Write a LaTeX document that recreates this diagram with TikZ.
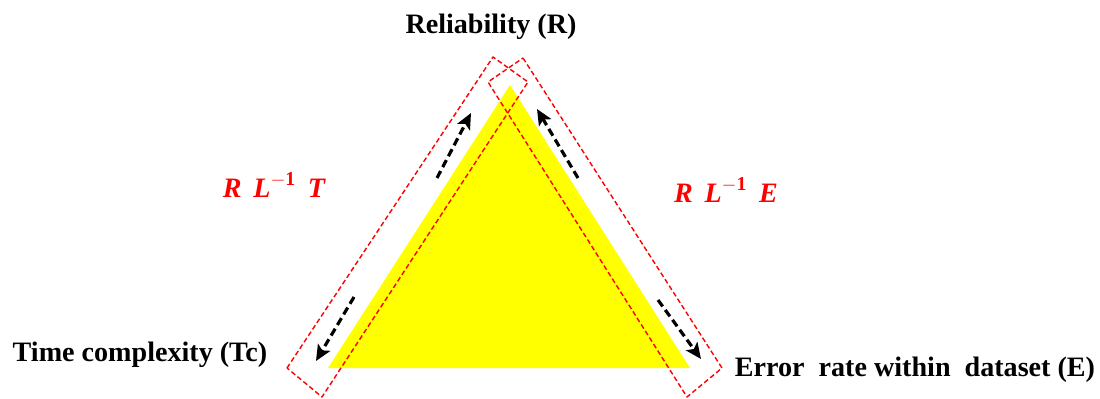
\documentclass[tikz,border=0pt]{standalone}
\usepackage{fontspec}
\setmainfont{Liberation Serif}
\usetikzlibrary{arrows.meta}
\definecolor{triyel}{RGB}{255,255,0}
\definecolor{boxred}{RGB}{255,0,0}
\begin{document}
\begin{tikzpicture}[x=0.02cm,y=-0.02cm,
  redbox/.style={draw=boxred, line width=0.8pt, dash pattern=on 2.8pt off 1.6pt, line join=round},
  darrow/.style={draw=black, line width=1.8pt, dash pattern=on 4.5pt off 2.5pt, -{Stealth[length=9pt,width=8pt,inset=2pt]}},
  lab/.style={font=\bfseries\fontsize{16}{19}\selectfont, inner sep=0pt},
  rlab/.style={text=boxred, font=\bfseries\itshape\fontsize{16}{19}\selectfont, inner sep=0pt}]
\useasboundingbox (0,0) rectangle (1100,399);
% yellow triangle
\fill[triyel] (510,85) -- (690,368) -- (328,368) -- cycle;
% red dashed rectangles
\draw[redbox] (287,368) -- (493,57) -- (528,82) -- (322,397) -- cycle;
\draw[redbox] (523,58) -- (722,368) -- (687,397) -- (488,82) -- cycle;
% arrows
\coordinate (a1s) at (437,178); \coordinate (a1e) at (471,113);
\coordinate (a2s) at (354,297); \coordinate (a2e) at (316,361);
\coordinate (a3s) at (578,178); \coordinate (a3e) at (537,109);
\coordinate (a4s) at (658,300); \coordinate (a4e) at (701,359);
\draw[darrow] (a1s) -- (a1e);
\draw[darrow] (a2s) -- (a2e);
\draw[darrow] (a3s) -- (a3e);
\draw[darrow] (a4s) -- (a4e);
% labels
\node[lab] (rel) at (491,27) {Reliability (R)};
\node[lab] (tc) at (140,355) {Time complexity (Tc)};
\node[lab] (err) at (915,370) {Error\ \ rate within\ \ dataset (E)};
\node[rlab] (rlt) at (274,185) {R\,\ L$^{\mathbf{-1}}$\,\ T};
\node[rlab] (rle) at (726,190) {R\,\ L$^{\mathbf{-1}}$\,\ E};
\end{tikzpicture}
\end{document}
